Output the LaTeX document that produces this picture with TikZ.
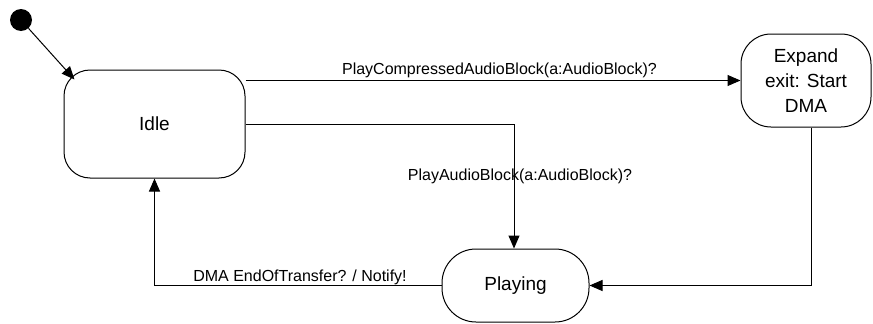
\documentclass[tikz,border=0pt]{standalone}
\usepackage{fontspec}
\setmainfont{Liberation Sans}
\usetikzlibrary{arrows.meta,calc}
\begin{document}
\begin{tikzpicture}[x=1pt,y=-1pt,
  state/.style={draw, line width=1pt, align=center, inner sep=0pt,
    font=\fontsize{19}{25}\selectfont},
  conn/.style={line width=1pt, -{Triangle[length=13pt,width=11pt]}},
  lbl/.style={inner sep=0pt, font=\fontsize{16}{19}\selectfont}]
\useasboundingbox (0,0) rectangle (873,324);
\node[circle, fill, minimum size=22pt, inner sep=0pt] (init) at (21,20) {};
\node[state, minimum width=181pt, minimum height=108pt, rounded corners=26pt] (idle) at (154.5,124) {Idle};
\node[state, minimum width=130pt, minimum height=93pt, rounded corners=30pt] (expand) at (806,80.5) {Expand\\exit: Start\\DMA};
\node[state, minimum width=147pt, minimum height=73pt, rounded corners=34pt] (playing) at (515.5,285.5) {Playing};
\coordinate (idlecorner) at ($(idle.north west)+(11,10)$);
\draw[conn] (init) -- (idlecorner);
\draw[conn] (idle.east |- expand.west) -- (expand.west);
\draw[conn] (idle.east) -| ([xshift=-1.5pt]playing.north);
\draw[conn] ([xshift=5pt]expand.south) |- (playing.east);
\draw[conn] (playing.west) -| (idle.south);
\node[lbl] (l1) at (499.5,70) {PlayCompressedAudioBlock(a:AudioBlock)?};
\node[lbl] (l2) at (520,176) {PlayAudioBlock(a:AudioBlock)?};
\node[lbl] (l3) at (300,277) {DMA EndOfTransfer? / Notify!};
\end{tikzpicture}
\end{document}
